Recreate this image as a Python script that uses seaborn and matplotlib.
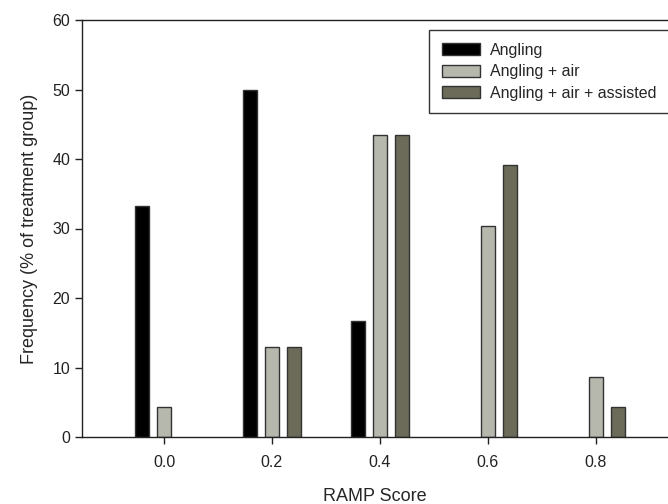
import pandas as pd
import matplotlib
matplotlib.use("Agg")
import matplotlib.pyplot as plt
import seaborn as sns

# RAMP score categories and frequencies (% of treatment group)
ramp_scores = ["0.0", "0.2", "0.4", "0.6", "0.8"]
angling = [33.3, 50.0, 16.7, 0.0, 0.0]
angling_air = [4.35, 13.0, 43.5, 30.4, 8.7]
angling_air_assisted = [0.0, 13.0, 43.5, 39.1, 4.35]

groups = ["Angling", "Angling + air", "Angling + air + assisted"]
colores = ["#000000", "#b9baab", "#6f6e56"]

df = pd.DataFrame({
    "score": ramp_scores * 3,
    "grupo": [groups[0]] * 5 + [groups[1]] * 5 + [groups[2]] * 5,
    "freq": angling + angling_air + angling_air_assisted,
})

sns.set_style("ticks")
plt.rcParams["font.family"] = ["Liberation Sans", "DejaVu Sans"]

fig = plt.figure(figsize=(6.68, 5.04), dpi=100)
ax = fig.add_axes([82 / 668, 67 / 504, 1 - 82 / 668, 417 / 504])

sns.barplot(data=df, x="score", y="freq", hue="grupo", hue_order=groups,
            palette=colores, width=0.61, gap=0.36, edgecolor="#333333",
            linewidth=1, ax=ax)

# las barras con valor 0 no se dibujan en el original
for cont in ax.containers:
    for bar in cont:
        if bar.get_height() == 0:
            bar.set_visible(False)

ax.set_ylim(0, 60)
ax.set_yticks([0, 10, 20, 30, 40, 50, 60])
ax.set_xlim(-0.76, 4.67)
ax.spines["right"].set_visible(False)
for s in ["left", "bottom", "top"]:
    ax.spines[s].set_linewidth(1)
    ax.spines[s].set_color("#222222")
ax.tick_params(axis="both", direction="out", length=5, width=1,
               labelsize=11.5, colors="#222222")
ax.tick_params(axis="x", pad=8)

ax.set_xlabel("RAMP Score", fontsize=13, labelpad=13)
ax.set_ylabel("Frequency (% of treatment group)", fontsize=13, labelpad=10)

handles, labels = ax.get_legend_handles_labels()
leg = ax.legend(handles, labels, loc="upper left",
                bbox_to_anchor=(429 / 668, 1 - 30 / 504),
                bbox_transform=fig.transFigure, borderaxespad=0,
                fontsize=11.5, frameon=True, fancybox=False,
                edgecolor="#333333", framealpha=1, handlelength=2.4,
                handleheight=0.8, labelspacing=0.4, borderpad=0.8,
                handletextpad=0.6)
leg.get_frame().set_linewidth(1)

fig.savefig("out.png", dpi=100)
